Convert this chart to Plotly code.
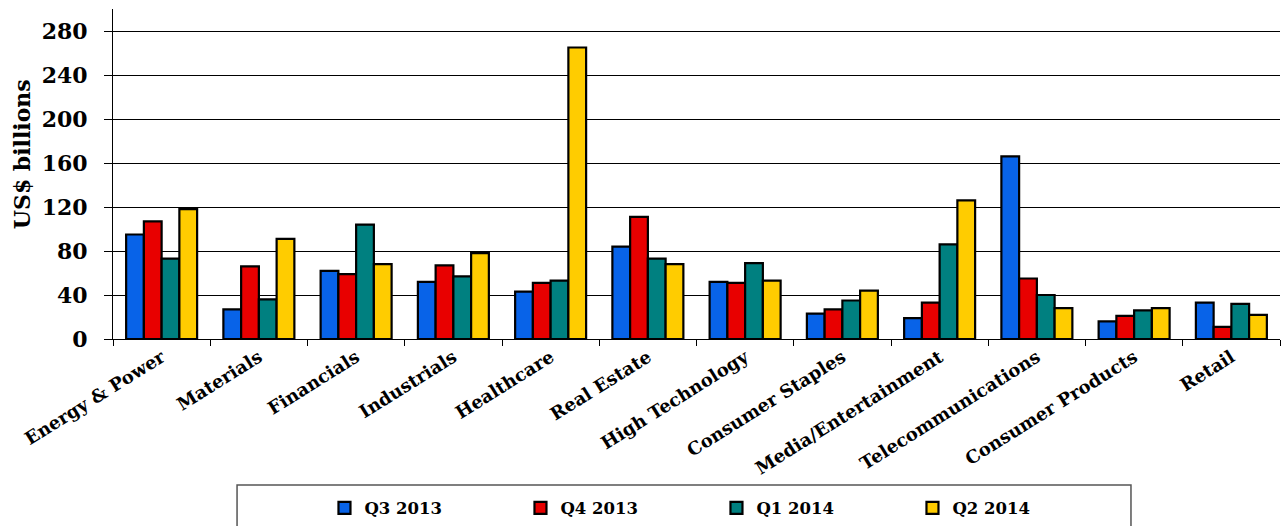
import plotly.graph_objects as go

# Sectors shown along the x axis
sectors = [
    "Energy & Power", "Materials", "Financials", "Industrials", "Healthcare",
    "Real Estate", "High Technology", "Consumer Staples", "Media/Entertainment",
    "Telecommunications", "Consumer Products", "Retail",
]

# Deal value per quarter, US$ billions
q3_2013 = [95, 27, 62, 52, 43, 84, 52, 23, 19, 166, 16, 33]
q4_2013 = [107, 66, 59, 67, 51, 111, 51, 27, 33, 55, 21, 11]
q1_2014 = [73, 36, 104, 57, 53, 73, 69, 35, 86, 40, 26, 32]
q2_2014 = [118, 91, 68, 78, 265, 68, 53, 44, 126, 28, 28, 22]

series = [
    ("Q3 2013", q3_2013, "#0863E8"),
    ("Q4 2013", q4_2013, "#E80000"),
    ("Q1 2014", q1_2014, "#008080"),
    ("Q2 2014", q2_2014, "#FFCC00"),
]

y_ticks = [0, 40, 80, 120, 160, 200, 240, 280]

SERIF = "DejaVu Serif"

fig = go.Figure()
for name, values, color in series:
    fig.add_trace(go.Bar(
        name=name,
        x=sectors,
        y=values,
        marker=dict(color=color, line=dict(color="black", width=2.2)),
    ))

fig.update_layout(
    width=1284,
    height=526,
    margin=dict(l=113, r=4, t=9, b=187),
    paper_bgcolor="white",
    plot_bgcolor="white",
    barmode="group",
    bargap=0.27,
    bargroupgap=0,
    font=dict(family=SERIF, color="black"),
    legend=dict(
        orientation="h",
        xref="container",
        yref="container",
        x=0.558,
        xanchor="center",
        y=0.034,
        yanchor="middle",
        font=dict(family=SERIF, size=16.5, weight="bold", color="black"),
        entrywidth=151,
        bgcolor="rgba(0,0,0,0)",
        itemclick=False,
    ),
    shapes=[
        dict(
            type="rect", xref="paper", yref="paper",
            x0=0.1063, x1=0.8723, y0=-0.70, y1=-0.4424,
            line=dict(color="#555555", width=1.5),
            fillcolor="rgba(0,0,0,0)",
            layer="below",
        )
    ],
    annotations=[
        # y-axis title, placed a little above the axis midpoint
        dict(
            text="US$ billions",
            xref="paper", yref="paper",
            x=-0.078, y=0.56,
            xanchor="center", yanchor="middle",
            textangle=-90,
            showarrow=False,
            font=dict(family=SERIF, size=22, weight="bold", color="black"),
        )
    ],
)

fig.update_xaxes(
    showline=True,
    linecolor="black",
    linewidth=1,
    ticks="outside",
    ticklen=6,
    tickcolor="black",
    tickson="boundaries",
    tickangle=-32,
    tickfont=dict(family=SERIF, size=18, weight="bold", color="black"),
    showgrid=False,
)

fig.update_yaxes(
    range=[0, 300],
    tickvals=y_ticks,
    showline=True,
    linecolor="black",
    linewidth=1,
    ticks="outside",
    ticklen=8,
    tickcolor="black",
    ticklabelstandoff=12,
    showgrid=True,
    gridcolor="black",
    gridwidth=1,
    tickfont=dict(family=SERIF, size=22, weight="bold", color="black"),
    zeroline=False,
)

fig.write_html("out.html")
